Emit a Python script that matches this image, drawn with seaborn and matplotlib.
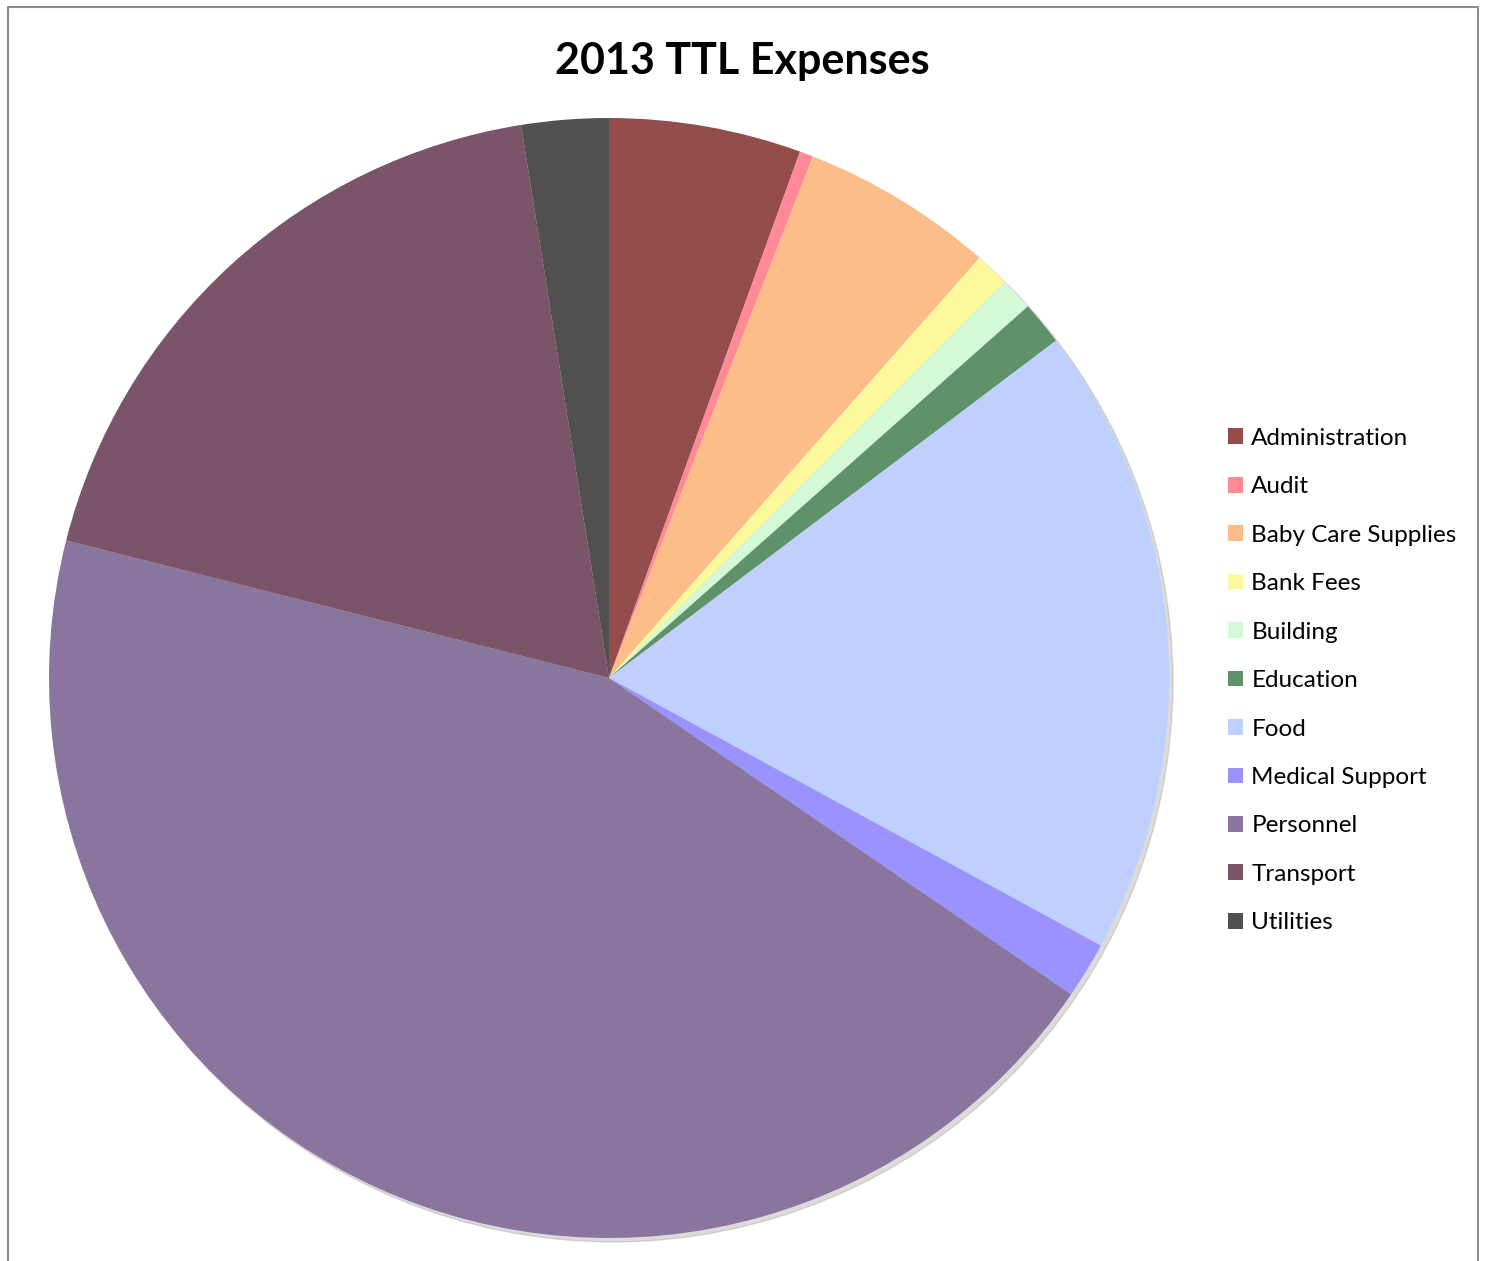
import matplotlib
matplotlib.use("Agg")
import matplotlib.pyplot as plt
import matplotlib.patches as mpatches
import seaborn as sns

# --- data (percent of total) ---
categories = ['Administration', 'Audit', 'Baby Care Supplies', 'Bank Fees', 'Building',
              'Education', 'Food', 'Medical Support', 'Personnel', 'Transport', 'Utilities']
shares = [5.54, 0.39, 5.57, 0.99, 0.96, 1.26, 18.22, 1.62, 44.40, 18.54, 2.51]
colors = ['#934d4b', '#ff8a96', '#fdbd88', '#fbf99b', '#d4fad5', '#5f916b',
          '#bfd0ff', '#9a92ff', '#8a759f', '#7b5469', '#515151']

sns.set_style("white")
plt.rcParams['font.family'] = ['Lato', 'DejaVu Sans']
plt.rcParams['text.color'] = 'black'

W, H = 1486, 1261
fig = plt.figure(figsize=(W / 100, H / 100), dpi=100)

# pie box: centre (609, 678), radius 560 px
cx, cy, r = 609, 678, 560
ax = fig.add_axes([(cx - r) / W, (H - cy - r) / H, 2 * r / W, 2 * r / H])

# soft shadow on the lower right edge
shadow = mpatches.Circle((0.007, -0.007), 1.0, color='#9a9a9a', alpha=0.35, zorder=0)
shadow.set_clip_on(False)
ax.add_patch(shadow)

pal = sns.color_palette(colors)
wedges, _ = ax.pie(shares, colors=pal, startangle=90, counterclock=False,
                   radius=1.0, wedgeprops=dict(linewidth=0))
for w in wedges:
    w.set_zorder(1)
    w.set_clip_on(False)
ax.set_xlim(-1.0, 1.0)
ax.set_ylim(-1.0, 1.0)
ax.set_aspect('equal')
ax.axis('off')

fig.text(742 / W, 1 - 61 / H, '2013 TTL Expenses', ha='center', va='center',
         fontsize=31, fontweight='bold', color='black')

fig.legend(wedges, categories, loc='upper left', bbox_to_anchor=(1218 / W, 1 - 418 / H),
           frameon=False, fontsize=17.5, handlelength=0.62, handleheight=0.62,
           handletextpad=0.35, labelspacing=1.13, borderaxespad=0, labelcolor='black')

# thin grey frame around the figure (open at the bottom)
frame = dict(color='#8c8c8c', linewidth=1.5)
fig.add_artist(plt.Line2D([8 / W, 8 / W], [0, 1 - 7 / H], transform=fig.transFigure, **frame))
fig.add_artist(plt.Line2D([1478 / W, 1478 / W], [0, 1 - 7 / H], transform=fig.transFigure, **frame))
fig.add_artist(plt.Line2D([8 / W, 1478 / W], [1 - 7 / H, 1 - 7 / H], transform=fig.transFigure, **frame))

fig.savefig('out.png', dpi=100)
